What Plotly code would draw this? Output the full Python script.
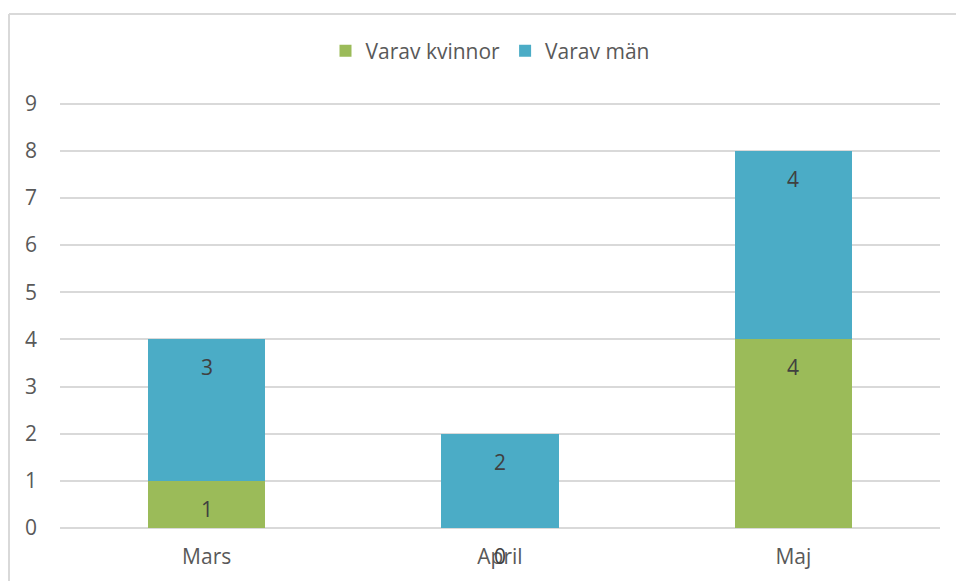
import plotly.graph_objects as go

categories = ["Mars", "April", "Maj"]
women = [1, 0, 4]
men = [3, 2, 4]
series_names = ["Varav kvinnor", "Varav män"]
y_ticks = list(range(0, 10))

GREEN = "#9bbb59"
BLUE = "#4bacc6"
FONT = "Open Sans"
FS = 21

W, H = 956, 581
L, R, T, B = 60, 16, 99, 53
pw, ph = W - L - R, H - T - B
def px2x(p): return (p - L) / pw
def px2y(p): return (H - B - p) / ph

fig = go.Figure()
fig.add_trace(go.Bar(x=categories, y=women, name=series_names[0], marker_color=GREEN, marker_line_width=0))
fig.add_trace(go.Bar(x=categories, y=men, name=series_names[1], marker_color=BLUE, marker_line_width=0))

# data labels near top of each segment (inside end)
for i, c in enumerate(categories):
    tops = [women[i], women[i] + men[i]]
    vals = [women[i], men[i]]
    for top, v in zip(tops, vals):
        fig.add_annotation(x=c, y=top, text=str(v), showarrow=False, yanchor="middle",
                           yshift=-28, font=dict(family=FONT, size=FS, color="#404040"))

# outer chart border (top and left edges visible)
border = dict(color="#d9d9d9", width=2)
fig.add_shape(type="line", xref="paper", yref="paper",
              x0=px2x(9), x1=px2x(990), y0=px2y(14), y1=px2y(14), line=border, layer="below")
fig.add_shape(type="line", xref="paper", yref="paper",
              x0=px2x(9), x1=px2x(9), y0=px2y(14), y1=px2y(620), line=border, layer="below")

fig.update_layout(
    width=W, height=H,
    margin=dict(l=L, r=R, t=T, b=B),
    barmode="stack", bargap=0.6,
    paper_bgcolor="white", plot_bgcolor="white",
    font=dict(family=FONT, size=FS, color="#595959"),
    showlegend=True,
    legend=dict(orientation="h", x=px2x(490), xanchor="center", y=px2y(51), yanchor="middle",
                bgcolor="rgba(0,0,0,0)", font=dict(size=FS, color="#595959"),
                traceorder="normal", itemwidth=30),
    xaxis=dict(showgrid=False, showline=False, ticks="", ticklabelstandoff=14,
               tickfont=dict(size=FS, color="#595959")),
    yaxis=dict(range=[0, 9.1], tickvals=y_ticks, showgrid=True, gridcolor="#d9d9d9", gridwidth=1.5,
               zeroline=True, zerolinecolor="#d9d9d9", zerolinewidth=1.5, showline=False,
               ticks="", ticklabelstandoff=22, tickfont=dict(size=FS, color="#595959")),
)

fig.write_html("out.html", config={"displayModeBar": False},
               post_script="document.body.style.margin='0';document.body.style.overflow='hidden';")
